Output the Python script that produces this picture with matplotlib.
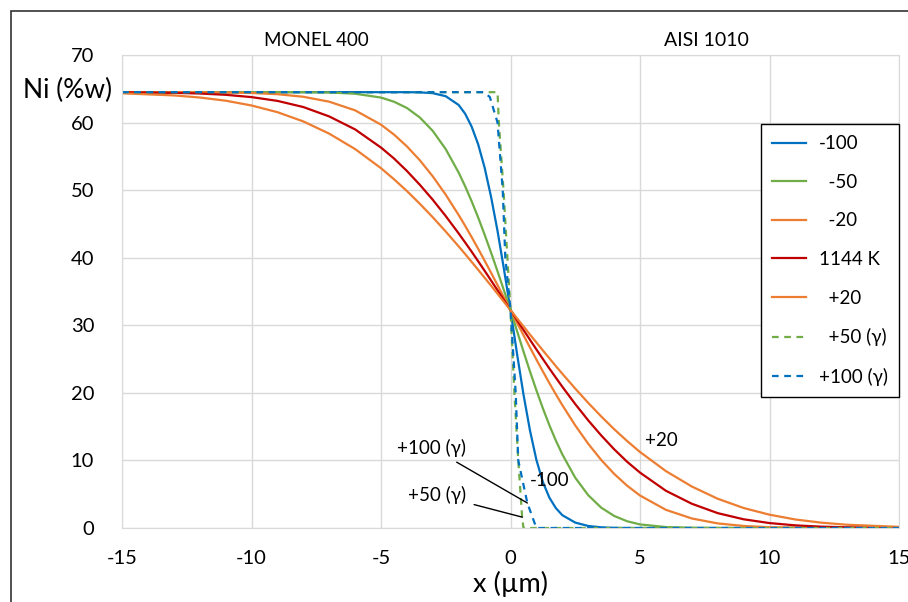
import numpy as np
import matplotlib.pyplot as plt
from matplotlib.patches import Rectangle

plt.rcParams['font.family'] = ['Lato', 'DejaVu Sans']
plt.rcParams['axes.unicode_minus'] = False

# x positions (um) where the solid profiles were read
x_pts = [-15, -13, -12, -11, -10, -9, -8, -7, -6, -5, -4.5, -4, -3.5, -3, -2.5, -2,
         -1.75, -1.5, -1.25, -1, -0.75, -0.5, -0.25, 0, 0.25, 0.5, 0.75, 1, 1.25, 1.5,
         1.75, 2, 2.5, 3, 3.5, 4, 4.5, 5, 6, 7, 8, 9, 10, 11, 12, 13, 15]

ni_m100 = [64.5, 64.5, 64.5, 64.5, 64.5, 64.5, 64.5, 64.5, 64.5, 64.5, 64.5, 64.5, 64.47,
           64.35, 63.9, 62.6, 61.3, 59.4, 56.8, 53.35, 49.0, 43.95, 38.25, 32.25,
           25.83, 19.79, 14.47, 10.08, 6.8, 4.5, 2.95, 1.9, 0.8, 0.3, 0.1,
           0.02, 0, 0, 0, 0, 0, 0, 0, 0, 0, 0, 0]
ni_m50 = [64.5, 64.5, 64.5, 64.5, 64.5, 64.5, 64.5, 64.45, 64.27, 63.7, 63.09, 62.16, 60.75,
          58.76, 56.06, 52.59, 50.56, 48.35, 45.96, 43.42, 40.75, 37.98, 35.13, 32.25,
          29.18, 26.15, 23.19, 20.38, 17.71, 15.22, 12.95, 10.9, 7.44, 4.86, 3.02, 1.79,
          1.0, 0.53, 0.14, 0.03, 0, 0, 0, 0, 0, 0, 0]
ni_m20 = [64.5, 64.5, 64.48, 64.45, 64.38, 64.2, 63.82, 63.09, 61.81, 59.69, 58.23, 56.48,
          54.42, 52.03, 49.32, 46.31, 44.71, 43.05, 41.33, 39.57, 37.77, 35.95, 34.1, 32.25,
          30.4, 28.55, 26.73, 24.93, 23.17, 21.45, 19.79, 18.19, 15.18, 12.47, 10.08, 8.02,
          6.27, 4.81, 2.69, 1.41, 0.68, 0.3, 0.12, 0.05, 0.02, 0.01, 0]
ni_1144 = [64.48, 64.4, 64.3, 64.11, 63.77, 63.21, 62.3, 60.91, 58.99, 56.3, 54.69, 52.84,
           50.79, 48.57, 46.16, 43.59, 42.25, 40.89, 39.49, 38.07, 36.63, 35.18, 33.72, 32.25,
           30.78, 29.32, 27.87, 26.43, 25.01, 23.61, 22.25, 20.91, 18.34, 15.93, 13.71, 11.66,
           9.81, 8.2, 5.51, 3.59, 2.2, 1.29, 0.73, 0.39, 0.2, 0.1, 0.02]
ni_p20 = [64.33, 64.02, 63.71, 63.24, 62.53, 61.54, 60.17, 58.36, 56.08, 53.25, 51.62, 49.87,
          47.98, 45.98, 43.87, 41.67, 40.54, 39.38, 38.22, 37.04, 35.86, 34.66, 33.46, 32.25,
          31.04, 29.84, 28.64, 27.46, 26.28, 25.12, 23.96, 22.83, 20.63, 18.52, 16.52, 14.63,
          12.88, 11.25, 8.42, 6.14, 4.33, 2.96, 1.97, 1.26, 0.79, 0.48, 0.17]

# gamma profiles (dashed)
x_p50 = [-15, -0.5, -0.45, -0.27, -0.12, 0, 0.15, 0.3, 0.45, 0.5, 15]
ni_p50 = [64.5, 64.5, 60, 50, 40, 32.25, 20, 10, 1.6, 0, 0]
x_p100 = [-15, -1.05, -0.8, -0.5, -0.3, -0.2, 0, 0.2, 0.3, 0.65, 1.0, 15]
ni_p100 = [64.5, 64.5, 63.8, 60, 50, 40, 32.25, 20, 10, 3.7, 0, 0]

blue = '#0070C0'
green = '#70AD47'
orange = '#ED7D31'
red = '#C00000'

fig = plt.figure(figsize=(9.08, 6.02), dpi=100)
ax = fig.add_axes([122/908, 1-528/602, (899-122)/908, (528-55)/602])

ax.plot(x_pts, ni_m100, color=blue, lw=1.6, label='-100')
ax.plot(x_pts, ni_m50, color=green, lw=1.6, label='  -50')
ax.plot(x_pts, ni_m20, color=orange, lw=1.6, label='  -20')
ax.plot(x_pts, ni_1144, color=red, lw=1.6, label='1144 K')
ax.plot(x_pts, ni_p20, color=orange, lw=1.6, label='  +20')
ax.plot(x_p50, ni_p50, color=green, lw=1.6, ls=(0, (3, 2.5)), label='  +50 (γ)')
ax.plot(x_p100, ni_p100, color=blue, lw=1.6, ls=(0, (3, 2.5)), label='+100 (γ)')

ax.set_xlim(-15, 15)
ax.set_ylim(0, 70)
ax.set_xticks(np.arange(-15, 16, 5))
ax.set_yticks(np.arange(0, 71, 10))
ax.grid(True, color='#D9D9D9', lw=1)
ax.set_axisbelow(True)
for s in ax.spines.values():
    s.set_color('#D9D9D9')
ax.tick_params(length=0, labelsize=14.5, colors='black')
ax.tick_params(axis='x', pad=16)
ax.tick_params(axis='y', pad=20)

leg = ax.legend(loc='upper right', bbox_to_anchor=(1.0, (528-124)/473), borderaxespad=0,
                fancybox=False, edgecolor='black', fontsize=13.5, handlelength=1.8,
                labelspacing=1.15, borderpad=0.6, handletextpad=0.7)
leg.get_frame().set_linewidth(1.0)
leg.get_frame().set_alpha(1)

ax.text(-7.5, 72.2, 'MONEL 400', ha='center', va='center', fontsize=13.5)
ax.text(7.55, 72.2, 'AISI 1010', ha='center', va='center', fontsize=14)

ax.annotate('+100 (γ)', xy=(0.65, 3.7), xytext=(-1.72, 11.9), ha='right', va='center',
            fontsize=13.5, arrowprops=dict(arrowstyle='-', color='black', lw=1, shrinkA=4, shrinkB=0))
ax.annotate('+50 (γ)', xy=(0.46, 1.6), xytext=(-1.72, 4.9), ha='right', va='center',
            fontsize=13.5, arrowprops=dict(arrowstyle='-', color='black', lw=1, shrinkA=4, shrinkB=0))
ax.text(0.75, 7.0, '-100', ha='left', va='center', fontsize=13.5)
ax.text(5.2, 12.9, '+20', ha='left', va='center', fontsize=13.5)

fig.text(23/908, 1-90/602, 'Ni (%w)', ha='left', va='center', fontsize=19)
fig.text(510/908, 1-584/602, 'x (µm)', ha='center', va='center', fontsize=19.5)

fig.patches.append(Rectangle((11/908, -0.1), 1.2, 1-11/602+0.1, transform=fig.transFigure,
                             fill=False, edgecolor='#333333', lw=1.2))

fig.savefig('out.png', dpi=100)
